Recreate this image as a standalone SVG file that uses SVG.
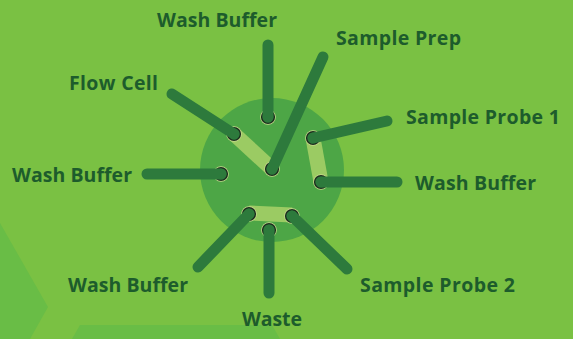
<svg xmlns="http://www.w3.org/2000/svg" width="573" height="339" viewBox="0 0 573 339">
<style>
.lbl{font-family:"Open Sans","Liberation Sans",sans-serif;font-weight:700;font-size:19.5px;fill:#1D5C2C}
.tube{stroke:#2D7A3C;stroke-width:11;stroke-linecap:round;fill:none}
.bar{stroke:#9BCB63;stroke-width:15;stroke-linecap:butt;fill:none}
.port{fill:#2D7A3C;stroke:#1C2E1E;stroke-width:1.6}
.halo{fill:#C9DA8E}
</style>
<rect width="573" height="339" fill="#7AC143"/>
<polygon points="0,223 48,307 30,339 0,339" fill="#69BD46"/>
<polygon points="80,325 272,325 280,339 72,339" fill="#69BD46"/>
<g id="hub">
<circle cx="272" cy="170" r="72" fill="#4DA646"/>
</g>
<g id="connectors">
<line class="bar" x1="234" y1="134" x2="272" y2="169"/>
<line class="bar" x1="313" y1="138" x2="321" y2="182"/>
<line class="bar" x1="249" y1="213" x2="292" y2="215"/>
<g>
<circle class="halo" cx="268" cy="117" r="7.8"/><circle class="port" cx="268" cy="117" r="6.3"/>
<circle class="halo" cx="272" cy="169" r="7.8"/><circle class="port" cx="272" cy="169" r="6.3"/>
<circle class="halo" cx="234" cy="134" r="7.8"/><circle class="port" cx="234" cy="134" r="6.3"/>
<circle class="halo" cx="221" cy="174" r="7.8"/><circle class="port" cx="221" cy="174" r="6.3"/>
<circle class="halo" cx="313" cy="138" r="7.8"/><circle class="port" cx="313" cy="138" r="6.3"/>
<circle class="halo" cx="321" cy="182" r="7.8"/><circle class="port" cx="321" cy="182" r="6.3"/>
<circle class="halo" cx="249" cy="214" r="7.8"/><circle class="port" cx="249" cy="214" r="6.3"/>
<circle class="halo" cx="292" cy="216" r="7.8"/><circle class="port" cx="292" cy="216" r="6.3"/>
<circle class="halo" cx="269" cy="230" r="7.8"/><circle class="port" cx="269" cy="230" r="6.3"/>
</g>
<line class="tube" x1="268" y1="45" x2="268" y2="117"/>
<line class="tube" x1="323" y1="57" x2="272" y2="169"/>
<line class="tube" x1="172" y1="94" x2="234" y2="134"/>
<line class="tube" x1="147" y1="174" x2="221" y2="174"/>
<line class="tube" x1="387" y1="121" x2="313" y2="138"/>
<line class="tube" x1="397" y1="182" x2="321" y2="182"/>
<line class="tube" x1="198" y1="267" x2="249" y2="214"/>
<line class="tube" x1="347" y1="269" x2="292" y2="216"/>
<line class="tube" x1="269" y1="293" x2="269" y2="230"/>
</g>
<g id="wash-buffer-top"><text class="lbl" x="157" y="27" textLength="120">Wash Buffer</text></g>
<g id="sample-prep"><text class="lbl" x="336" y="45" textLength="125">Sample Prep</text></g>
<g id="flow-cell"><text class="lbl" x="69" y="90" textLength="89">Flow Cell</text></g>
<g id="sample-probe-1"><text class="lbl" x="406" y="124" textLength="154">Sample Probe 1</text></g>
<g id="wash-buffer-left"><text class="lbl" x="12" y="182" textLength="120">Wash Buffer</text></g>
<g id="wash-buffer-right"><text class="lbl" x="415" y="190" textLength="121">Wash Buffer</text></g>
<g id="wash-buffer-bottom"><text class="lbl" x="68" y="292" textLength="120">Wash Buffer</text></g>
<g id="sample-probe-2"><text class="lbl" x="360" y="292" textLength="155">Sample Probe 2</text></g>
<g id="waste"><text class="lbl" x="242" y="326" textLength="60">Waste</text></g>
</svg>
